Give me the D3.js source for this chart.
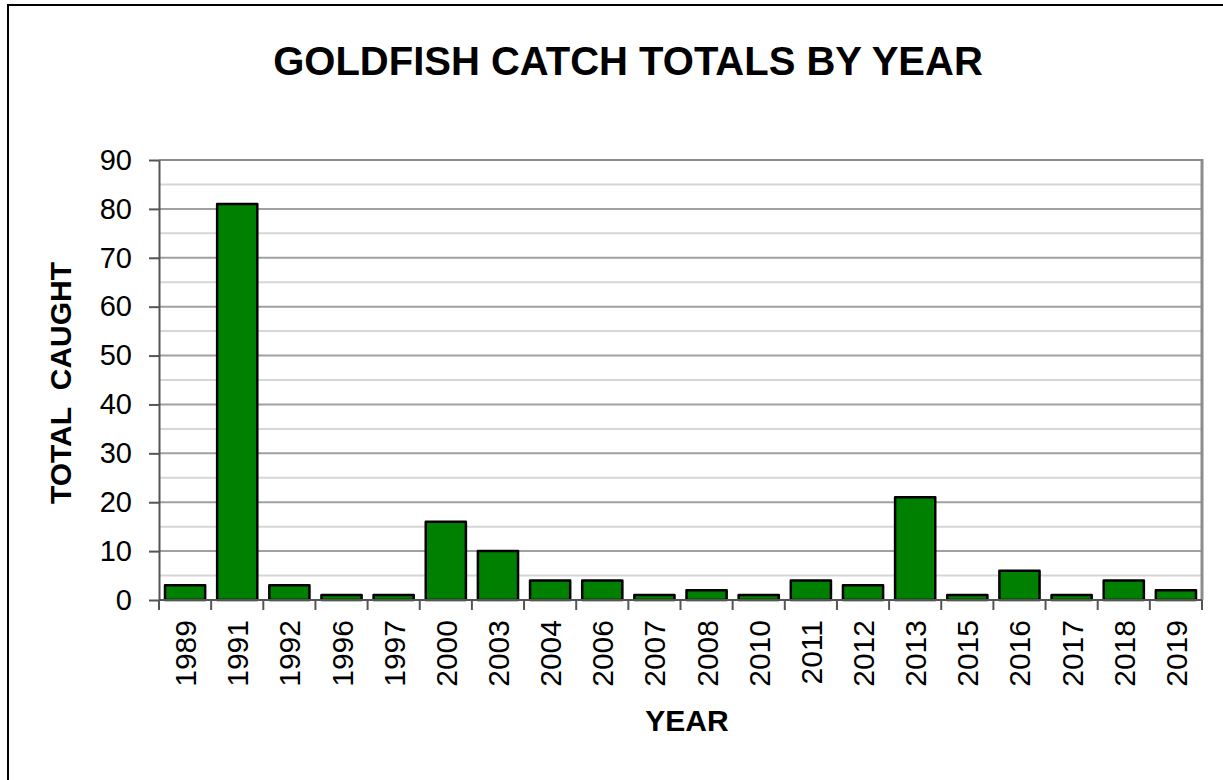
<!DOCTYPE html>
<html>
<head>
<meta charset="utf-8">
<script src="https://cdn.jsdelivr.net/npm/d3@7"></script>
<style>
  body { margin: 0; background: #fff; }
  text { font-family: Arial, "Liberation Sans", sans-serif; fill: #000; }
</style>
</head>
<body>
<main></main>
<script>
// chart data
const years = ['1989', '1991', '1992', '1996', '1997', '2000', '2003', '2004', '2006', '2007',
  '2008', '2010', '2011', '2012', '2013', '2015', '2016', '2017', '2018', '2019'];
const caught = [3, 81, 3, 1, 1, 16, 10, 4, 4, 1, 2, 1, 4, 3, 21, 1, 6, 1, 4, 2];
const yTicks = [0, 10, 20, 30, 40, 50, 60, 70, 80, 90];
const yMinor = [5, 15, 25, 35, 45, 55, 65, 75, 85];

const w = 1223;
const h = 780;
const plotLeft = 159;
const plotRight = 1202;
const plotTop = 160;
const plotBottom = 600;

const data = years.map((y, i) => ({ year: y, value: caught[i] }));

const svg = d3.select('main').append('svg').attr('width', w).attr('height', h);

// outer frame (runs off right / bottom edge)
svg.append('rect')
  .attr('x', 8).attr('y', 5)
  .attr('width', w + 20).attr('height', h + 20)
  .attr('fill', 'none').attr('stroke', '#000').attr('stroke-width', 2);

const x = d3.scaleBand().domain(years).range([plotLeft, plotRight]).paddingInner(0.23).paddingOuter(0.115);
const xb = d3.scaleBand().domain(years).range([plotLeft, plotRight]);
const y = d3.scaleLinear().domain([0, 90]).range([plotBottom, plotTop]);

// gridlines
svg.append('g').selectAll('line').data(yMinor).enter().append('line')
  .attr('x1', plotLeft).attr('x2', plotRight)
  .attr('y1', (d) => y(d)).attr('y2', (d) => y(d))
  .attr('stroke', '#d6d6d6').attr('stroke-width', 2);

svg.append('g').selectAll('line').data(yTicks.slice(1, -1)).enter().append('line')
  .attr('x1', plotLeft).attr('x2', plotRight)
  .attr('y1', (d) => y(d)).attr('y2', (d) => y(d))
  .attr('stroke', '#a0a0a0').attr('stroke-width', 2);

// plot border top / right
svg.append('line').attr('x1', plotLeft).attr('x2', plotRight).attr('y1', plotTop).attr('y2', plotTop)
  .attr('stroke', '#8c8c8c').attr('stroke-width', 2);
svg.append('line').attr('x1', plotRight).attr('x2', plotRight).attr('y1', plotTop - 1).attr('y2', plotBottom)
  .attr('stroke', '#8c8c8c').attr('stroke-width', 3);

// bars
svg.append('g').selectAll('rect').data(data).enter().append('rect')
  .attr('x', (d) => x(d.year))
  .attr('y', (d) => y(d.value))
  .attr('width', x.bandwidth())
  .attr('height', (d) => plotBottom - y(d.value))
  .attr('fill', '#008000')
  .attr('stroke', '#000')
  .attr('stroke-width', 2.5)
  .attr('stroke-linejoin', 'round');

// y axis
const yAxis = svg.append('g')
  .attr('transform', `translate(${plotLeft},0)`)
  .call(d3.axisLeft(y).tickValues(yTicks).tickSize(10).tickPadding(17).tickSizeOuter(0));
yAxis.select('.domain').attr('stroke', '#555').attr('stroke-width', 2);
yAxis.selectAll('.tick line').attr('stroke', '#555').attr('stroke-width', 2);
yAxis.selectAll('.tick text')
  .style('font-size', '29px')
  .style('font-family', 'Arial, "Liberation Sans", sans-serif')
  .attr('fill', '#000');

// x axis: ticks between categories
const xAxis = svg.append('g').attr('transform', `translate(0,${plotBottom})`);
xAxis.append('line').attr('x1', plotLeft).attr('x2', plotRight).attr('y1', 0).attr('y2', 0)
  .attr('stroke', '#555').attr('stroke-width', 2);
const bounds = years.map((d) => xb(d)).concat([plotRight]);
xAxis.selectAll('line.tk').data(bounds).enter().append('line')
  .attr('class', 'tk')
  .attr('x1', (d) => d).attr('x2', (d) => d)
  .attr('y1', 0).attr('y2', 10)
  .attr('stroke', '#555').attr('stroke-width', 2);
xAxis.selectAll('text').data(years).enter().append('text')
  .attr('transform', (d) => `translate(${xb(d) + xb.bandwidth() / 2 + 11},20) rotate(-90)`)
  .attr('text-anchor', 'end')
  .style('font-size', '30px')
  .text((d) => d);

// titles
svg.append('text')
  .attr('x', 628).attr('y', 75)
  .attr('text-anchor', 'middle')
  .style('font-size', '40px').style('font-weight', 'bold')
  .text('GOLDFISH CATCH TOTALS BY YEAR');

svg.append('text')
  .attr('transform', 'translate(71,383) rotate(-90)')
  .attr('text-anchor', 'middle')
  .style('font-size', '30px').style('font-weight', 'bold')
  .text('TOTAL\u00a0 CAUGHT');

svg.append('text')
  .attr('x', 687).attr('y', 731)
  .attr('text-anchor', 'middle')
  .style('font-size', '30px').style('font-weight', 'bold')
  .text('YEAR');
</script>
</body>
</html>
